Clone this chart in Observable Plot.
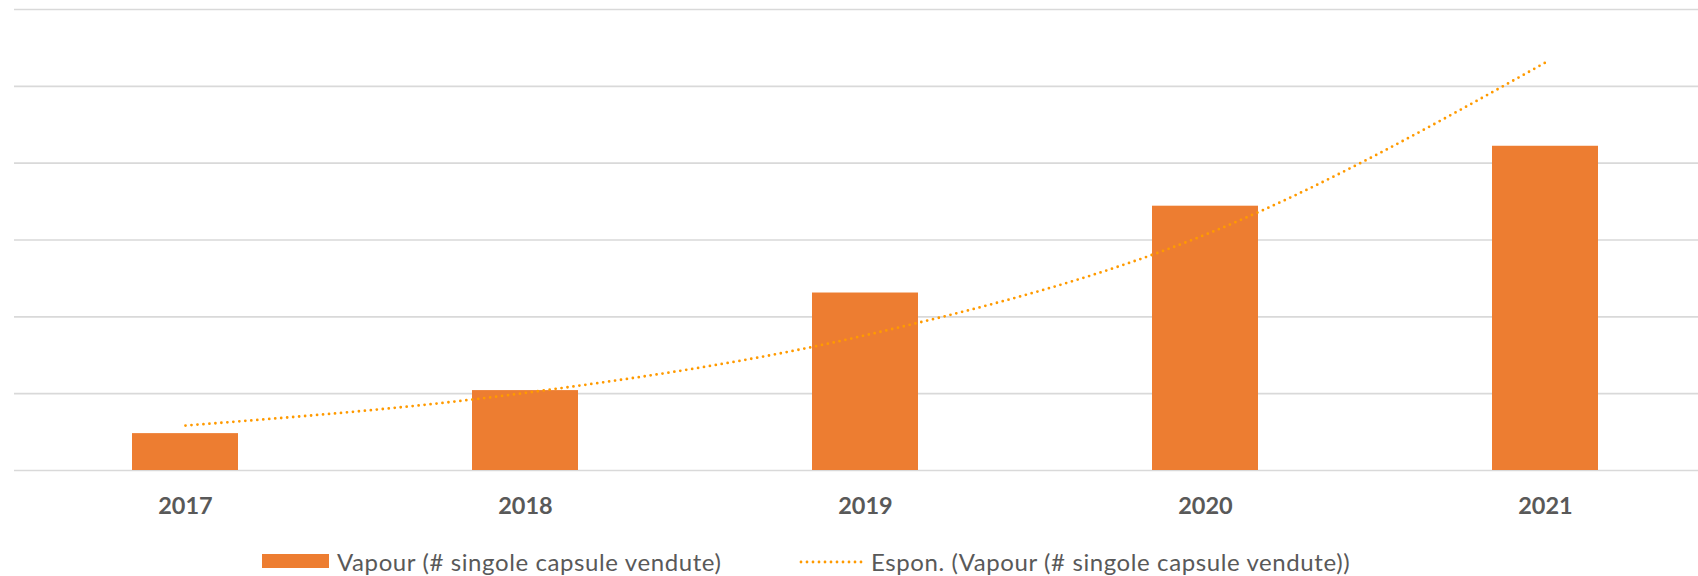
<!DOCTYPE html>
<html><head><meta charset="utf-8">
<script src="https://cdn.jsdelivr.net/npm/d3@7"></script>
<script src="https://cdn.jsdelivr.net/npm/@observablehq/plot@0.6"></script>
<style>
body{margin:0;background:#fff;font-family:Lato,"Open Sans",sans-serif;}
#chart{width:1698px;height:576px;overflow:hidden;position:relative}
#legend{position:relative;width:1698px;height:41px;color:#595959;font-size:24px;letter-spacing:0.6px}
#legend .sw{position:absolute;left:262px;top:19px;width:67px;height:14px;background:#ED7D31}
#legend .t1{position:absolute;left:337px;top:26px;transform:translateY(-50%);white-space:nowrap}
#legend .ln{position:absolute;left:799px;top:20px}
#legend .t2{position:absolute;left:871px;top:26px;transform:translateY(-50%);white-space:nowrap}
</style></head><body>
<div id="chart"></div>
<script>
const years = ["2017","2018","2019","2020","2021"];
const sales = [0.48, 1.04, 2.31, 3.44, 4.22];
const trend = [0.585, 1.01, 1.76, 3.07, 5.31];
const gridTicks = [0, 1, 2, 3, 4, 5, 6];
const seriesName = "Vapour (# singole capsule vendute)";
const trendName = "Espon. (Vapour (# singole capsule vendute))";

const barColor = "#ED7D31";
const trendColor = "#FF9A00";

const rows = years.map((y, i) => ({year: y, sales: sales[i], trend: trend[i]}));

const plot = Plot.plot({
  width: 1698,
  height: 535,
  marginLeft: 14,
  marginRight: 0,
  marginTop: 9,
  marginBottom: 65,
  style: {fontFamily: "Lato, 'Open Sans', sans-serif", background: "#fff"},
  x: {domain: years, range: [14, 1716.5], paddingInner: 0.689, paddingOuter: 0.3445},
  y: {domain: [0, 6], axis: null},
  marks: [
    Plot.ruleY(gridTicks, {stroke: "#D9D9D9", strokeWidth: 1.6}),
    Plot.barY(rows, {x: "year", y: "sales", fill: barColor}),
    Plot.line(rows, {x: "year", y: "trend", stroke: trendColor, strokeWidth: 2.8,
      strokeDasharray: "0 6", strokeLinecap: "round", curve: "monotone-x"}),
    Plot.axisX({tickSize: 0, tickPadding: 26.5, fontSize: 23.5, fontWeight: "bold", fill: "#595959", label: null})
  ]
});
const chart = document.getElementById("chart");
chart.appendChild(plot);

const legend = document.createElement("div");
legend.id = "legend";
legend.innerHTML = `<div class="sw"></div><div class="t1"></div>
<svg class="ln" width="66" height="14"><line x1="2" y1="7" x2="64" y2="7" stroke="${trendColor}" stroke-width="2.8" stroke-dasharray="0 6" stroke-linecap="round"/></svg>
<div class="t2"></div>`;
legend.querySelector(".t1").textContent = seriesName;
legend.querySelector(".t2").textContent = trendName;
chart.appendChild(legend);
</script>
</body></html>
